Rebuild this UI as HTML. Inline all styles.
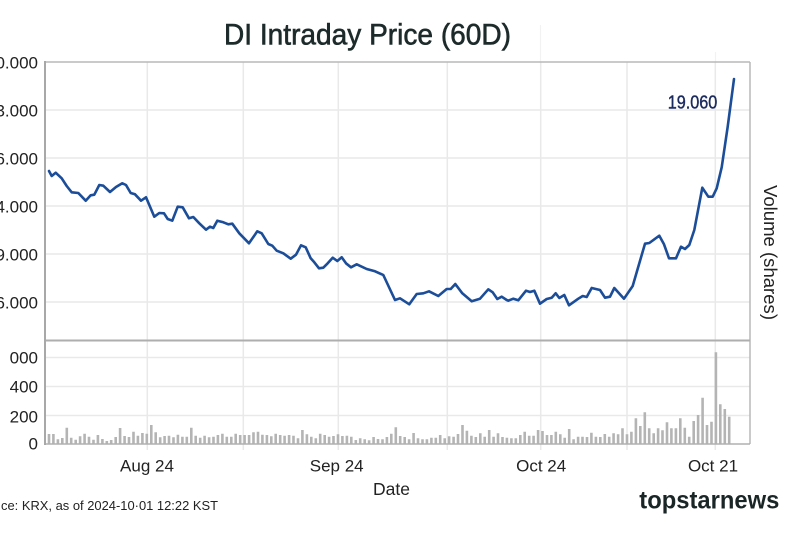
<!DOCTYPE html>
<html>
<head>
<meta charset="utf-8">
<style>
html,body{margin:0;padding:0;background:#fff;}
svg{display:block;}
text{font-family:"Liberation Sans",Arial,sans-serif;}
</style>
</head>
<body>
<svg width="800" height="533" viewBox="0 0 800 533" xmlns="http://www.w3.org/2000/svg">
<rect x="0" y="0" width="800" height="533" fill="#ffffff"/>

<!-- faint lines above plot -->
<line x1="540.5" y1="25" x2="540.5" y2="62" stroke="#f2f2f2" stroke-width="1.2"/>
<line x1="715.5" y1="52" x2="715.5" y2="62" stroke="#f2f2f2" stroke-width="1.2"/>

<!-- vertical gridlines -->
<g stroke="#e9e9e9" stroke-width="1.5">
<line x1="147.3" y1="62" x2="147.3" y2="450"/>
<line x1="243.3" y1="62" x2="243.3" y2="450"/>
<line x1="338.3" y1="62" x2="338.3" y2="450"/>
<line x1="447.3" y1="62" x2="447.3" y2="450"/>
<line x1="540.7" y1="62" x2="540.7" y2="450"/>
<line x1="627" y1="62" x2="627" y2="450"/>
<line x1="715.3" y1="62" x2="715.3" y2="450"/>
</g>
<!-- horizontal gridlines price -->
<g stroke="#e9e9e9" stroke-width="1.5">
<line x1="45" y1="110" x2="750" y2="110"/>
<line x1="45" y1="158" x2="750" y2="158"/>
<line x1="45" y1="206" x2="750" y2="206"/>
<line x1="45" y1="254" x2="750" y2="254"/>
<line x1="45" y1="302" x2="750" y2="302"/>
<!-- volume -->
<line x1="45" y1="357.5" x2="750" y2="357.5"/>
<line x1="45" y1="386.5" x2="750" y2="386.5"/>
<line x1="45" y1="415.5" x2="750" y2="415.5"/>
</g>

<!-- volume bars -->
<path fill="none" stroke="#b4b4b4" stroke-width="2.6" d="
M49.0 444V434M53.4 444V434M57.9 444V439.3M62.3 444V438M66.8 444V427.7M71.2 444V437.7M75.7 444V439.7M80.1 444V436.3M84.6 444V433.7M89.0 444V436.7
M93.5 444V439.7M97.9 444V435M102.4 444V439M106.8 444V441M111.2 444V440M115.7 444V437M120.1 444V428M124.6 444V436M129.0 444V437M133.5 444V431.7
M137.9 444V435.7M142.4 444V433M146.8 444V433.7M151.3 444V425M155.7 444V432.3M160.2 444V437.3M164.6 444V436M169.0 444V435.7M173.5 444V437.3M177.9 444V434.7
M182.4 444V436.7M186.8 444V436.7M191.3 444V427.7M195.7 444V435.7M200.2 444V437.7M204.6 444V435.7M209.1 444V437.3M213.5 444V436.7M217.9 444V435M222.4 444V433.7
M226.8 444V436.7M231.3 444V436.7M235.7 444V433.7M240.2 444V435M244.6 444V435M249.1 444V435M253.5 444V432.3M258.0 444V431.7M262.4 444V434.7M266.9 444V435
M271.3 444V436.3M275.7 444V433.7
M280.2 444V435M284.6 444V435.7M289.1 444V435M293.5 444V435.7M298.0 444V438.3M302.4 444V430M306.9 444V434.3M311.3 444V436.7M315.8 444V438.3M320.2 444V433.7
M324.7 444V435M329.1 444V436.7M333.5 444V436M338.0 444V434.3M342.4 444V436M346.9 444V435.7M351.3 444V436.7M355.8 444V440M360.2 444V438.3M364.7 444V439.3
M369.1 444V440.3M373.6 444V437M378.0 444V439M382.5 444V439.3M386.9 444V437M391.3 444V433.7M395.8 444V427.3M400.2 444V436M404.7 444V437M409.1 444V439.3
M413.6 444V433M418.0 444V438.3M422.5 444V439.3M426.9 444V439.3M431.4 444V437.7M435.8 444V437.7M440.2 444V435M444.7 444V438.3M449.1 444V436.3M453.6 444V436.7
M458.0 444V434M462.5 444V425M466.9 444V430.7M471.4 444V435.7M475.8 444V437M480.3 444V433.3M484.7 444V436.7M489.2 444V430M493.6 444V436.7M498.0 444V433.3
M502.5 444V437M506.9 444V437.7M511.4 444V438.3
M515.8 444V438.3M520.3 444V435M524.7 444V431.7M529.2 444V435.7M533.6 444V435.7M538.1 444V430M542.5 444V431M547.0 444V435M551.4 444V435M555.8 444V431.7
M560.3 444V434.3M564.7 444V437.7M569.2 444V429M573.6 444V439.3M578.1 444V436.7M582.5 444V436.7M587.0 444V437M591.4 444V432.7M595.9 444V436.7M600.3 444V437
M604.8 444V434M609.2 444V436.7M613.6 444V433.3M618.1 444V434.3M622.5 444V428.3M627.0 444V434.3M631.4 444V431.7M635.9 444V418.3M640.3 444V426M644.8 444V412.3
M649.2 444V428.3M653.7 444V433.3M658.1 444V428.3M662.5 444V430.3M667.0 444V422.3M671.4 444V428.3M675.9 444V428.3M680.3 444V418.3M684.8 444V427.7M689.2 444V436.7
M693.7 444V421M698.1 444V415M702.6 444V397.7M707.0 444V425M711.5 444V421.7M715.9 444V352.3M720.3 444V404.3M724.8 444V409M729.2 444V416.7"/>

<!-- frame -->
<line x1="45" y1="62" x2="750" y2="62" stroke="#b8b8b8" stroke-width="1.5"/>
<line x1="750" y1="62" x2="750" y2="444" stroke="#b8b8b8" stroke-width="1.5"/>
<line x1="45" y1="340.5" x2="750" y2="340.5" stroke="#aeaeae" stroke-width="2"/>
<line x1="45" y1="444" x2="750" y2="444" stroke="#b0b0b0" stroke-width="1.5"/>
<line x1="45" y1="61" x2="45" y2="445" stroke="#a8a8a8" stroke-width="2"/>

<!-- price line -->
<polyline fill="none" stroke="#1b4d98" stroke-width="2.6" stroke-linejoin="round" stroke-linecap="round" points="
49,171 51.7,176 55.7,172.7 61.7,178.3 66.7,186 71.7,192.3 78.3,193 85.7,200.7 90.7,195.3 94.3,194.7 99.3,185 103.3,185.7 110,192 116,187 122.3,183.3 126,185 130.7,193 135,194.3 141,200.7 146,197.3 154.3,216.7 159.3,213 164,213.3 167.7,219 172.3,220.7 177.7,206.7 182.7,207.3 189,218.3 193.3,217 199.3,223.3 206,229.7 210,226.7 213.3,228 217.3,220.7 223.3,222.3 228.3,224.3 232.3,223.7 239.3,233.3 249,243.3 257.3,231.3 261.7,233.3 268.3,244 272.3,245.7 276.7,250.7 283.3,253.3 290.7,258.7 296,254.7 301,245.3 305.7,247.3 310.7,258.3 314.3,262.3 319,268.3 323.3,267.7 327.7,263.3 332.7,257.7 337.3,261 341.7,257.3 346,263.3 351,267.3 356.7,264.3 366.7,269 375,271.3 383.3,275 395,300 400,298.3 409.3,304.3 416.7,294 423.3,293.3 429,291.3 438.3,296 446.7,289 450.7,289 455.3,284 462.3,293.3 471.7,301.3 480,298.7 488.3,289.3 492.7,292.3 497.3,299 501.7,296.7 506.7,300 508.3,300.7 513.3,298.7 518.3,300.3 526,290.7 530,292 534.3,290.7 540,303.7 546.7,299 551.7,297.7 555.7,293.3 559.3,298 564.3,295 569,305.3 578.3,298.7 582.7,296 586.7,297 591.7,288 600,290 605,297.7 610,296.7 614.3,288 624,298.7 632.7,286 645,243.7 649.3,243 659.3,235.7 664,244.3 669,258.3 676,258.3 681,246.7 685,249 689.3,245 694.3,230 702.3,187.7 708.3,196.7 712.7,196.7 716.7,188.3 721.7,167.3 727.7,126.7 734,79"/>

<!-- annotation -->
<text x="667.7" y="108.3" font-size="18" fill="#1b2a5e" stroke="#1b2a5e" stroke-width="0.4" textLength="49.6" lengthAdjust="spacingAndGlyphs">19.060</text>

<!-- title -->
<text x="224" y="44.3" font-size="29.3" fill="#1d2a2a" stroke="#1d2a2a" stroke-width="0.6" textLength="287" lengthAdjust="spacingAndGlyphs">DI Intraday Price (60D)</text>

<!-- y tick labels price -->
<g font-size="17" fill="#222" text-anchor="end">
<text x="38" y="68.5">0.000</text>
<text x="38" y="116.5">3.000</text>
<text x="38" y="164.5">6.000</text>
<text x="38" y="212.5">4.000</text>
<text x="38" y="260.5">9.000</text>
<text x="38" y="308.5">6.000</text>
</g>
<!-- y tick labels volume -->
<g font-size="17" fill="#222" text-anchor="end">
<text x="38" y="363.5">000</text>
<text x="38" y="392.5">400</text>
<text x="38" y="422.5">200</text>
<text x="38" y="449.5">0</text>
</g>

<!-- x tick labels -->
<g font-size="17" fill="#222" text-anchor="middle">
<text x="147" y="471.7">Aug 24</text>
<text x="336.7" y="471.7">Sep 24</text>
<text x="541.2" y="471.7">Oct 24</text>
<text x="713" y="471.7">Oct 21</text>
</g>
<text x="391.5" y="495" font-size="17.5" fill="#222" text-anchor="middle">Date</text>

<!-- right axis label -->
<text transform="translate(770,252.5) rotate(90)" x="0" y="6" font-size="18" fill="#222" text-anchor="middle" textLength="135" lengthAdjust="spacingAndGlyphs">Volume (shares)</text>

<!-- source -->
<text x="1" y="510" font-size="13" fill="#222" textLength="217" lengthAdjust="spacingAndGlyphs">ce: KRX, as of 2024-10·01 12:22 KST</text>

<!-- brand -->
<text x="639.3" y="508.3" font-size="25" font-weight="bold" fill="#1a2626" textLength="140" lengthAdjust="spacingAndGlyphs">topstarnews</text>
</svg>
</body>
</html>
